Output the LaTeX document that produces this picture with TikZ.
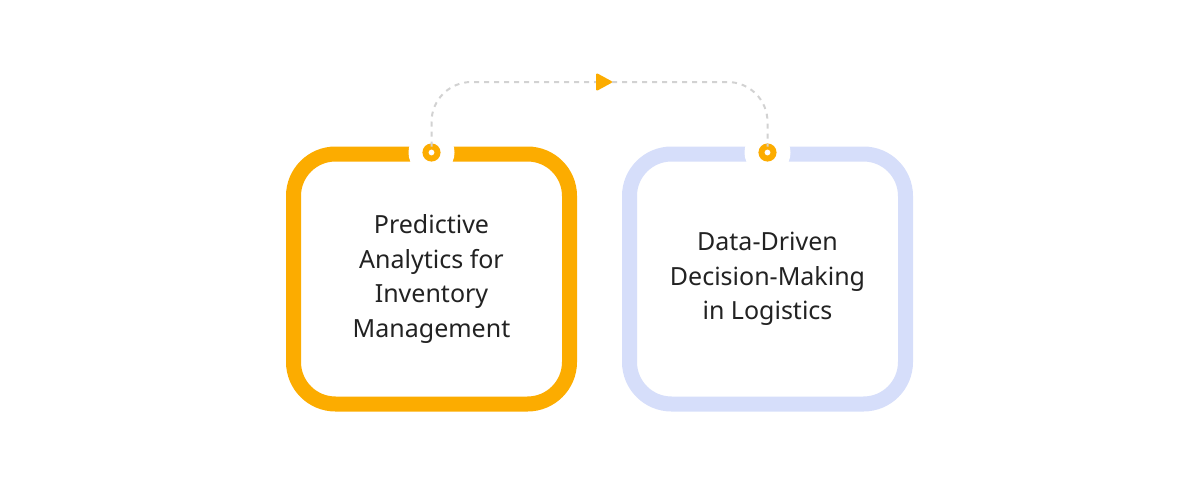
\documentclass[tikz,border=0pt]{standalone}
\usepackage{fontspec}
\setmainfont{Noto Sans}
\usepackage{tikz}
\usetikzlibrary{positioning, arrows.meta}

\definecolor{amber}{HTML}{FCAC00}
\definecolor{lavender}{HTML}{D6DEFA}
\definecolor{ink}{HTML}{222222}
\definecolor{dashgray}{HTML}{D2D2D2}

\begin{document}
\begin{tikzpicture}[x=1pt, y=-1pt, node distance=336pt, on grid,
    card/.style={draw=#1, line width=15pt, rounded corners=42pt, fill=white,
        minimum width=276pt, minimum height=250pt, outer sep=0pt,
        align=center, text=ink, font=\fontsize{25}{34.5}\selectfont},
    notch/.style={circle, fill=white, minimum size=46pt, inner sep=0pt},
    pin/.style={circle, draw=amber, line width=6pt, fill=white,
        minimum size=12pt, inner sep=0pt, outer sep=0pt},
    link/.style={draw=dashgray, line width=2pt, dash pattern=on 5pt off 5pt,
        rounded corners=40pt}]

        \useasboundingbox (0,0) rectangle (1200,480);

        %% NODES
        \node[card=amber] (pred) at (431.5,279) {Predictive\\Analytics for\\Inventory\\Management};
        \node[card=lavender] (data) [right=of pred] {Data-Driven\\Decision-Making\\in Logistics};

        % white gaps in the frames
        \node[notch] (gapA) at ([yshift=1.5pt]pred.north) {};
        \node[notch] (gapB) at ([yshift=1.5pt]data.north) {};

        \node[pin] (pinA) at ([yshift=1.5pt]pred.north) {};
        \node[pin] (pinB) at ([yshift=1.5pt]data.north) {};

        %% CONNECTOR
        \coordinate (peak) at (612,82);
        \draw[link, -{Triangle[length=17pt, width=18pt, round, color=amber]}]
            (pinA.north) |- (peak);
        \draw[link] (peak) -| (pinB.north);

    \end{tikzpicture}
\end{document}
